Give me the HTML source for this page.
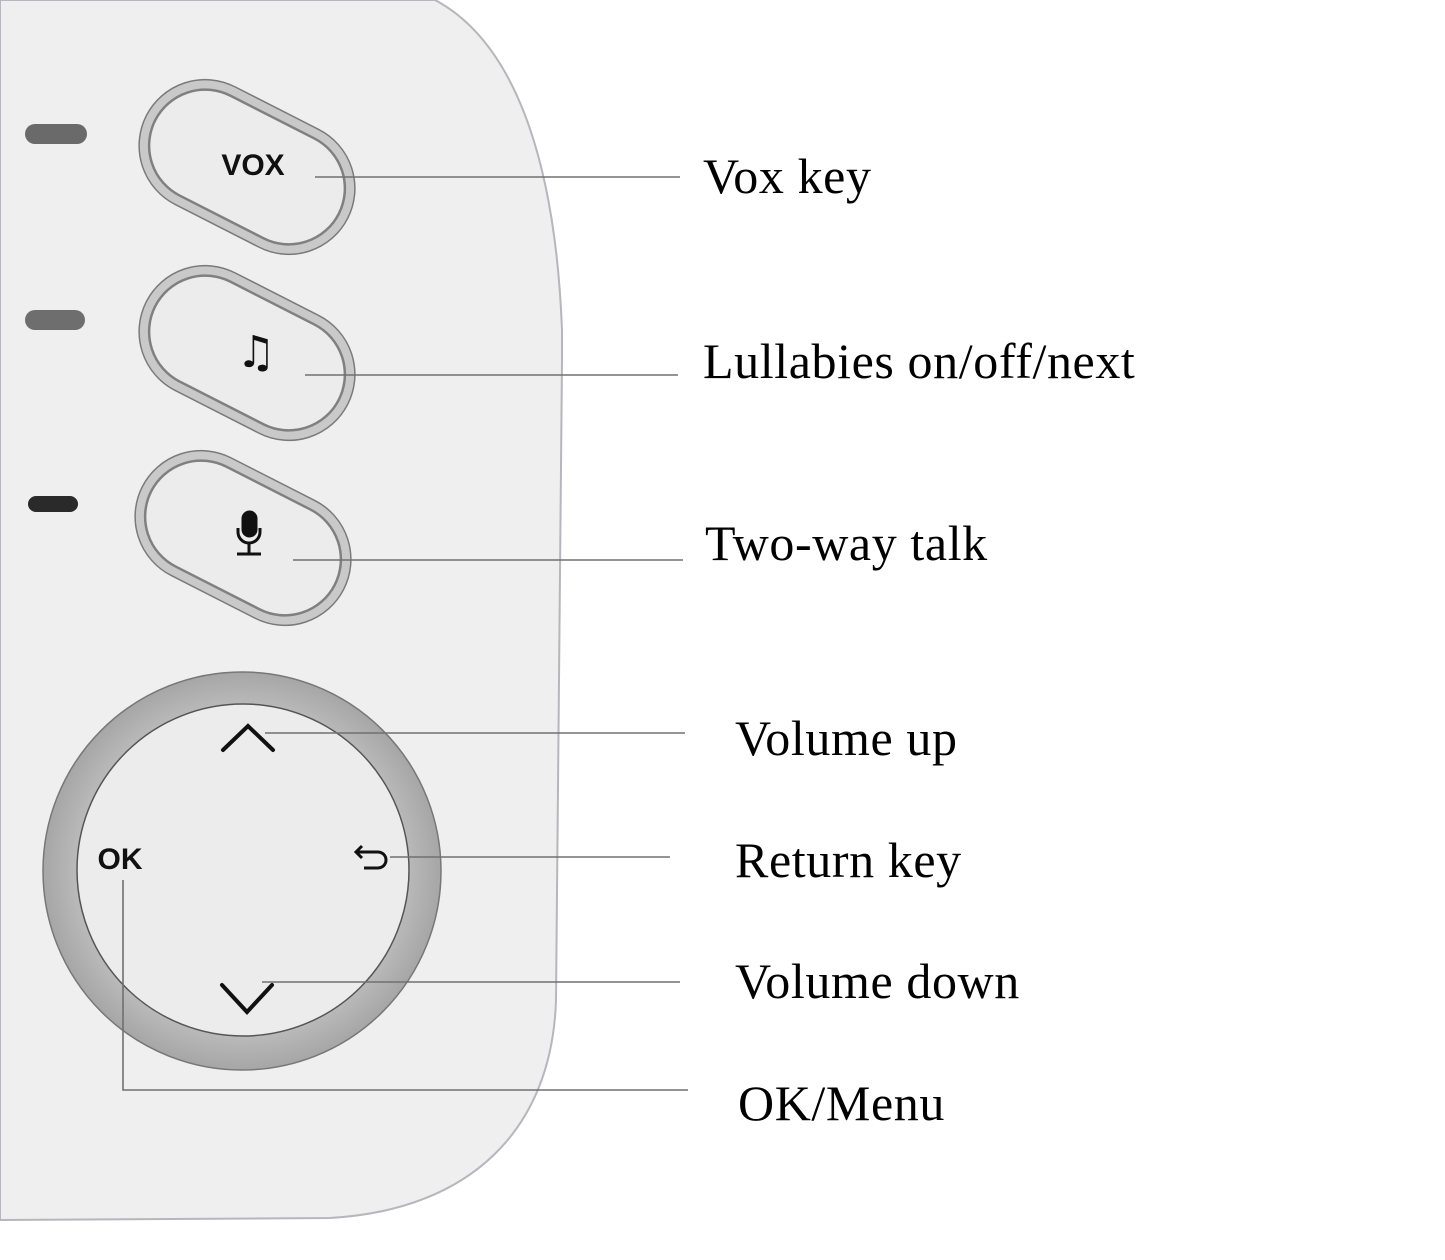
<!DOCTYPE html>
<html><head><meta charset="utf-8"><style>
html,body{margin:0;padding:0;background:#fff;}
svg{display:block;}
.lb{font-family:"Liberation Serif",serif;font-size:50px;letter-spacing:0.6px;fill:#000;}
</style></head><body>
<svg width="1445" height="1260" viewBox="0 0 1445 1260" xmlns="http://www.w3.org/2000/svg">
<defs>
<radialGradient id="ring" cx="50%" cy="50%" r="50%">
<stop offset="80%" stop-color="#bdbdbd"/><stop offset="100%" stop-color="#a6a6a6"/>
</radialGradient>
</defs>
<path d="M0,0 L435,0 C510,40 555,150 562,330 L562,360 L556,1000 C552,1130 470,1210 330,1218 L0,1220 Z" fill="#efefef" stroke="#b6b6bc" stroke-width="2"/>
<rect x="25" y="124" width="62" height="20" rx="10" fill="#6a6a6a"/>
<rect x="25" y="310" width="60" height="20" rx="10" fill="#6e6e6e"/>
<rect x="28" y="496" width="50" height="16" rx="8" fill="#2a2a2a"/>
<g transform="translate(247,167) rotate(27)">
<rect x="-113" y="-66" width="226" height="132" rx="66" fill="#c9c9c9" stroke="#7a7a7a" stroke-width="1.5"/>
<rect x="-103" y="-56" width="206" height="112" rx="56" fill="#ececec" stroke="#808080" stroke-width="2.5"/>
</g>
<g transform="translate(247,353) rotate(27)">
<rect x="-113" y="-66" width="226" height="132" rx="66" fill="#c9c9c9" stroke="#7a7a7a" stroke-width="1.5"/>
<rect x="-103" y="-56" width="206" height="112" rx="56" fill="#ececec" stroke="#808080" stroke-width="2.5"/>
</g>
<g transform="translate(243,538) rotate(27)">
<rect x="-113" y="-66" width="226" height="132" rx="66" fill="#c9c9c9" stroke="#7a7a7a" stroke-width="1.5"/>
<rect x="-103" y="-56" width="206" height="112" rx="56" fill="#ececec" stroke="#808080" stroke-width="2.5"/>
</g>
<text x="253" y="175" text-anchor="middle" font-family="Liberation Sans,sans-serif" font-weight="bold" font-size="30" fill="#111">VOX</text>
<text x="256" y="367" text-anchor="middle" font-family="DejaVu Sans,sans-serif" font-weight="bold" font-size="44" fill="#111">♫</text>
<g fill="none" stroke="#111" stroke-width="3">
<rect x="243" y="512" width="13" height="24" rx="6.5" fill="#111"/>
<path d="M238,528 v4 a11,11 0 0 0 22,0 v-4"/>
<path d="M249,543 v10 M237,554 h24"/>
</g>
<circle cx="242" cy="871" r="199" fill="url(#ring)" stroke="#777" stroke-width="1.5"/>
<circle cx="243" cy="870" r="166" fill="#ececec" stroke="#555" stroke-width="1.5"/>
<path d="M223,750 L248,726 L273,750" fill="none" stroke="#111" stroke-width="4" stroke-linecap="round"/>
<path d="M222,985 L247,1012 L272,985" fill="none" stroke="#111" stroke-width="4" stroke-linecap="round"/>
<text x="120" y="869" text-anchor="middle" font-family="Liberation Sans,sans-serif" font-weight="bold" font-size="30" fill="#111">OK</text>
<path d="M362,846 l-6,6 l6,6 M356,852 h22 a8,8 0 0 1 0,16 h-14" fill="none" stroke="#111" stroke-width="3"/>
<g stroke="#707070" stroke-width="1.6" fill="none">
<path d="M315,177 H680"/>
<path d="M305,375 H678"/>
<path d="M293,560 H683"/>
<path d="M265,733 H685"/>
<path d="M390,857 H670"/>
<path d="M262,982 H680"/>
<path d="M123,880 V1090 H688"/>
</g>
<text class="lb" x="703" y="193">Vox key</text>
<text class="lb" x="703" y="378">Lullabies on/off/next</text>
<text class="lb" x="705" y="560">Two-way talk</text>
<text class="lb" x="735" y="755">Volume up</text>
<text class="lb" x="735" y="877">Return key</text>
<text class="lb" x="735" y="998">Volume down</text>
<text class="lb" x="738" y="1120">OK/Menu</text>
</svg>
</body></html>
